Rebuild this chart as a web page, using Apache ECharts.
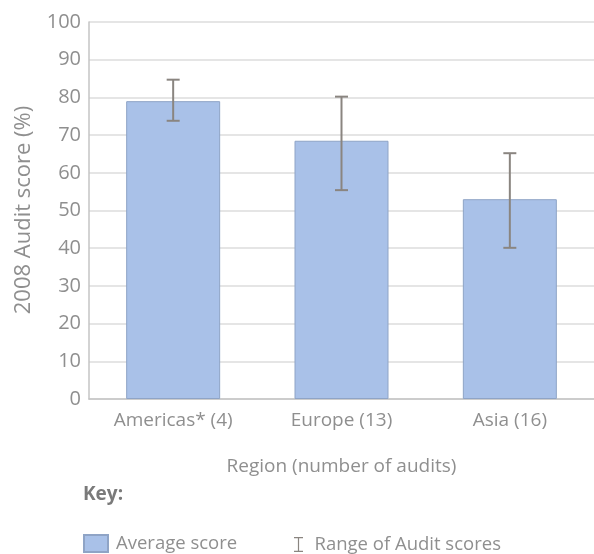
<!DOCTYPE html>
<html><head><meta charset="utf-8">
<script src="https://cdn.jsdelivr.net/npm/echarts@6/dist/echarts.min.js"></script>
<style>html,body{margin:0;padding:0;background:#fff}#c{width:594px;height:554px}</style>
</head><body><div id="c"></div>
<script>
const categories = ['Americas* (4)', 'Europe (13)', 'Asia (16)'];
const averageScore = [79, 68.5, 53];
const rangeLow = [73.8, 55.4, 40.1];
const rangeHigh = [84.7, 80.2, 65.2];
const yTicks = [0, 10, 20, 30, 40, 50, 60, 70, 80, 90, 100];

const textColor = '#8f8f8f';
const font = 'Open Sans';
const chart = echarts.init(document.getElementById('c'));
const errData = categories.map((c, i) => [i, rangeLow[i], rangeHigh[i]]);

chart.setOption({
  animation: false,
  textStyle: { fontFamily: font },
  grid: { left: 89, right: -5, top: 22, bottom: 155 },
  xAxis: {
    type: 'category', data: categories,
    name: 'Region (number of audits)', nameLocation: 'middle', nameGap: 58,
    nameTextStyle: { color: textColor, fontSize: 19, fontFamily: font },
    axisLine: { lineStyle: { color: '#c4c4c4', width: 1.5 } },
    axisTick: { inside: true, length: 7, lineStyle: { color: '#b0b0b0' } },
    axisLabel: { color: textColor, fontSize: 19, margin: 12, fontFamily: font }
  },
  yAxis: {
    type: 'value', min: 0, max: 100, interval: 10,
    axisLine: { show: true, lineStyle: { color: '#c4c4c4', width: 1.5 } },
    axisTick: { show: false },
    splitLine: { lineStyle: { color: '#dcdcdc', width: 1.5 } },
    axisLabel: { color: textColor, fontSize: 20, margin: 8, fontFamily: font,
      formatter: v => yTicks.includes(v) ? String(v) : '' }
  },
  legend: [{
    data: [{ name: 'Average score', icon: 'rect' }],
    left: 78, top: 529, itemWidth: 24, itemHeight: 17, itemGap: 10,
    textStyle: { color: textColor, fontSize: 18.5, fontFamily: font, padding: [0,0,0,3] }
  }, {
    data: [{ name: 'Range of Audit scores', icon: 'path://M0,0H12V1.6H6.8V18.4H12V20H0V18.4H5.2V1.6H0Z' }],
    left: 289, top: 530, itemWidth: 14, itemHeight: 15,
    textStyle: { color: textColor, fontSize: 18.5, fontFamily: font, padding: [0,0,0,4] }
  }],
  graphic: [{
    type: 'text', left: 83, top: 485,
    style: { text: 'Key:', fill: '#7a7a7a', fontSize: 19, fontWeight: 'bold', fontFamily: font }
  }, {
    type: 'text', x: 24, y: 210, rotation: Math.PI / 2,
    style: { text: '2008 Audit score (%)', fill: textColor, fontSize: 22, fontFamily: font,
      textAlign: 'center', textVerticalAlign: 'middle' }
  }],
  series: [{
    name: 'Average score', type: 'bar', data: averageScore, barWidth: 94,
    itemStyle: { color: '#a9c1e8', borderColor: '#8fa4c6', borderWidth: 1 }
  }, {
    name: 'Range of Audit scores', type: 'custom', data: errData, z: 5,
    itemStyle: { color: '#8a8580' },
    encode: { x: 0, y: [1, 2] },
    renderItem: (params, api) => {
      const x = api.value(0);
      const lo = api.coord([x, api.value(1)]);
      const hi = api.coord([x, api.value(2)]);
      const hw = 6.5;
      const st = { stroke: '#8a8580', lineWidth: 2, fill: null };
      return { type: 'group', children: [
        { type: 'line', shape: { x1: lo[0], y1: lo[1], x2: hi[0], y2: hi[1] }, style: st },
        { type: 'line', shape: { x1: lo[0]-hw, y1: lo[1], x2: lo[0]+hw, y2: lo[1] }, style: st },
        { type: 'line', shape: { x1: hi[0]-hw, y1: hi[1], x2: hi[0]+hw, y2: hi[1] }, style: st }
      ]};
    }
  }]
});
</script></body></html>
